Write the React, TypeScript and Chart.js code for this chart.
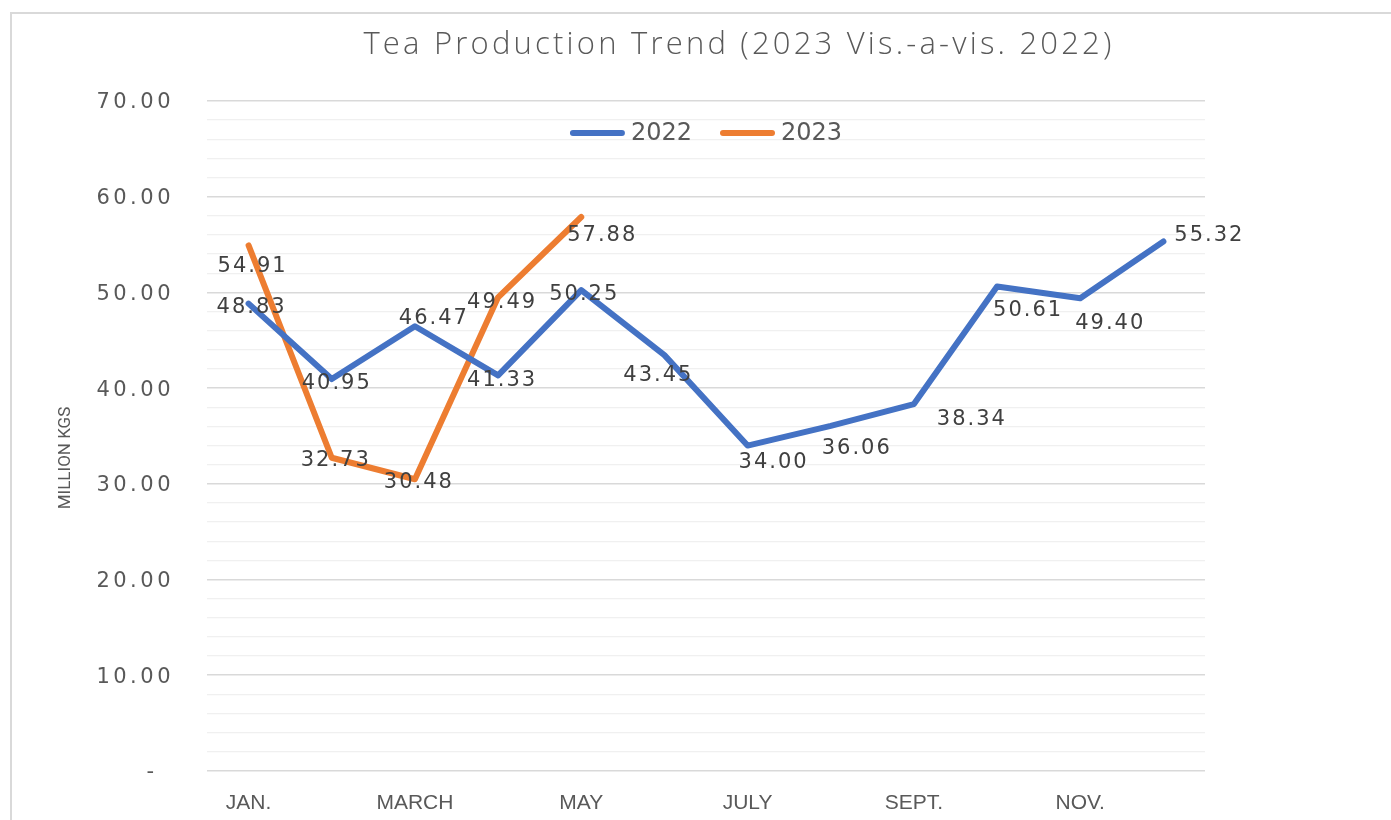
import { useEffect, useRef } from "react";
import { Chart, registerables } from "chart.js";

Chart.register(...registerables);

const CHART_TITLE = "Tea Production Trend (2023 Vis.-a-vis. 2022)";
const Y_AXIS_TITLE = "MILLION KGS";
const MONTHS = ["JAN.", "FEB.", "MARCH", "APRIL", "MAY", "JUNE", "JULY", "AUG.", "SEPT.", "OCT.", "NOV.", "DEC."];
const SERIES_NAMES = ["2022", "2023"];
const PROD_2022 = [48.83, 40.95, 46.47, 41.33, 50.25, 43.45, 34.0, 36.06, 38.34, 50.61, 49.4, 55.32];
const PROD_2023 = [54.91, 32.73, 30.48, 49.49, 57.88];
const Y_MIN = 0;
const Y_MAX = 70;
const Y_MINOR_STEP = 2;
const Y_MAJOR_STEP = 10;
// data-label placement relative to each point (dx, dy)
const LABEL_OFFSETS_2022 = [[3, 2], [5, 2], [19, -10], [4, 3], [3, 3], [-6, 18], [26, 15], [26, 21], [58, 14], [31, 22], [30, 23], [46, -8]];
const LABEL_OFFSETS_2023 = [[4, 19], [4, 1], [4, 1], [4, 3], [21, 17]];

const BLUE = "#4472c4";
const ORANGE = "#ed7d31";
const TEXT = "#595959";
const LABEL_TEXT = "#404040";

const formatTick = (v: number) => (v === 0 ? "-" : v.toFixed(2));

const overlayPlugin = {
  id: "overlayText",
  afterDraw(chart: any) {
    const ctx = chart.ctx as any;
    const area = chart.chartArea;
    const y = chart.scales.y;
    ctx.save();
    // chart title
    ctx.font = '300 31px "Open Sans"';
    ctx.fillStyle = TEXT;
    ctx.textAlign = "center";
    ctx.textBaseline = "alphabetic";
    ctx.letterSpacing = "3.2px";
    ctx.fillText(CHART_TITLE, 739, 54);

    // y axis title (rotated)
    ctx.letterSpacing = "0px";
    ctx.save();
    ctx.font = '17px "Roboto"';
    ctx.textAlign = "center";
    ctx.textBaseline = "middle";
    ctx.translate(66, (area.top + area.bottom) / 2 + 22);
    ctx.rotate(-Math.PI / 2);
    ctx.fillText(Y_AXIS_TITLE, 0, 0);
    ctx.restore();

    // legend (inside the plot area, centred)
    ctx.font = '24px "DejaVu Sans"';
    ctx.textBaseline = "middle";
    ctx.textAlign = "left";
    const lineLen = 49;
    const cap = 3;
    const textGap = 6;
    const itemGap = 28;
    const items = chart.data.datasets.map((ds: any) => ({
      text: ds.label,
      color: ds.borderColor,
      w: ctx.measureText(ds.label).width,
    }));
    const total =
      items.reduce((s: number, it: any) => s + lineLen + 2 * cap + textGap + it.w, 0) + itemGap * (items.length - 1);
    let lx = (area.left + area.right) / 2 - total / 2;
    const ly = area.top + 32;
    for (const it of items) {
      ctx.strokeStyle = it.color;
      ctx.lineWidth = 6;
      ctx.lineCap = "round";
      ctx.beginPath();
      ctx.moveTo(lx + cap, ly);
      ctx.lineTo(lx + cap + lineLen, ly);
      ctx.stroke();
      lx += lineLen + 2 * cap + textGap;
      ctx.fillStyle = TEXT;
      ctx.fillText(it.text, lx, ly + 1);
      lx += it.w + itemGap;
    }

    // y tick labels
    ctx.font = '21px "DejaVu Sans"';
    ctx.letterSpacing = "3.5px";
    ctx.fillStyle = TEXT;
    ctx.textBaseline = "middle";
    for (const t of y.ticks) {
      if (t.value % Y_MAJOR_STEP !== 0) continue;
      const py = y.getPixelForValue(t.value) + 2;
      const txt = formatTick(t.value);
      if (t.value === 0) {
        ctx.textAlign = "center";
        ctx.fillText(txt, area.left - 55, py);
      } else {
        ctx.textAlign = "right";
        ctx.fillText(txt, area.left - 33, py);
      }
    }
    // data labels
    ctx.letterSpacing = "2px";
    ctx.fillStyle = LABEL_TEXT;
    ctx.textAlign = "center";
    const offsets = [LABEL_OFFSETS_2022, LABEL_OFFSETS_2023];
    chart.data.datasets.forEach((ds: any, di: number) => {
      const meta = chart.getDatasetMeta(di);
      meta.data.forEach((pt: any, i: number) => {
        const v = ds.data[i];
        if (v == null) return;
        const [dx, dy] = offsets[di][i];
        ctx.fillText(v.toFixed(2), pt.x + dx, pt.y + dy + 2);
      });
    });
    ctx.restore();
  },
};

export default function App() {
  const ref = useRef<HTMLCanvasElement>(null);
  useEffect(() => {
    const canvas = ref.current;
    if (!canvas) return;
    const chart = new Chart(canvas, {
      type: "line",
      data: {
        labels: MONTHS,
        datasets: [
          {
            label: SERIES_NAMES[0],
            data: PROD_2022,
            borderColor: BLUE,
            backgroundColor: BLUE,
            borderWidth: 6,
            pointRadius: 0,
            pointHoverRadius: 0,
            tension: 0,
            borderCapStyle: "round",
            borderJoinStyle: "round",
            fill: false,
          },
          {
            label: SERIES_NAMES[1],
            data: PROD_2023,
            borderColor: ORANGE,
            backgroundColor: ORANGE,
            borderWidth: 6,
            pointRadius: 0,
            pointHoverRadius: 0,
            tension: 0,
            borderCapStyle: "round",
            borderJoinStyle: "round",
            fill: false,
          },
        ],
      },
      options: {
        responsive: false,
        animation: false,
        devicePixelRatio: 1,
        layout: { padding: { left: 0, right: 186, top: 101, bottom: 0 } },
        plugins: {
          title: { display: false },
          tooltip: { enabled: false },
          legend: { display: false },
        },
        scales: {
          x: {
            type: "category",
            offset: true,
            grid: { display: false, drawTicks: false },
            border: { display: false },
            ticks: {
              autoSkip: false,
              maxRotation: 0,
              minRotation: 0,
              padding: 20,
              color: TEXT,
              font: { family: "Liberation Sans", size: 21 },
              callback: (_v: any, i: number) => (i % 2 === 0 ? MONTHS[i] : ""),
            },
            afterFit: (s: any) => {
              s.height = 49;
            },
          },
          y: {
            min: Y_MIN,
            max: Y_MAX,
            ticks: { stepSize: Y_MINOR_STEP, display: false },
            grid: {
              drawTicks: false,
              color: (c: any) => (c.tick && c.tick.value % Y_MAJOR_STEP === 0 ? "#d9d9d9" : "#f0f0f0"),
              lineWidth: (c: any) => (c.tick && c.tick.value % Y_MAJOR_STEP === 0 ? 1.6 : 1.3),
            },
            border: { display: false },
            title: { display: false, text: Y_AXIS_TITLE },
            afterFit: (s: any) => {
              s.width = 207;
            },
          },
        },
      },
      plugins: [overlayPlugin],
    });
    return () => chart.destroy();
  }, []);

  return (
    <div
      style={{
        position: "fixed",
        left: 0,
        top: 0,
        width: 1391,
        height: 820,
        overflow: "hidden",
        background: "#ffffff",
      }}
    >
      <canvas ref={ref} width={1391} height={820} style={{ position: "absolute", left: 0, top: 0 }} />
      <div
        style={{
          position: "absolute",
          left: 10,
          top: 12,
          width: 1500,
          height: 900,
          border: "2px solid #d9d9d9",
          boxSizing: "border-box",
          pointerEvents: "none",
        }}
      />
    </div>
  );
}
